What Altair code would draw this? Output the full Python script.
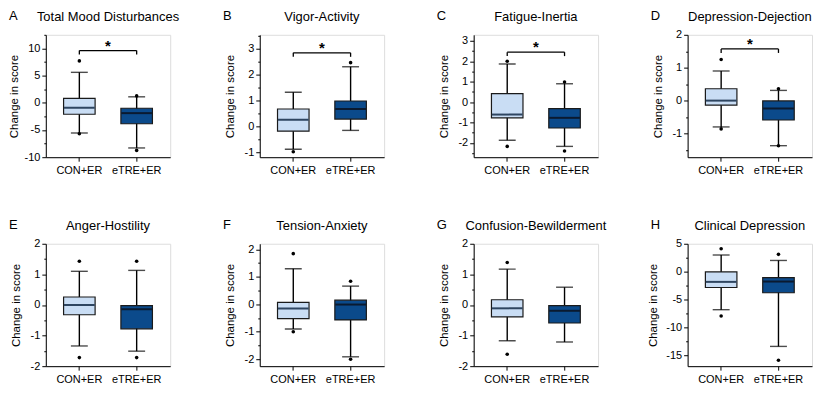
import altair as alt
import pandas as pd
import math

groups = ["CON+ER", "eTRE+ER"]
letters = ["A", "B", "C", "D", "E", "F", "G", "H"]
titles = ["Total Mood Disturbances", "Vigor-Activity", "Fatigue-Inertia", "Depression-Dejection",
          "Anger-Hostility", "Tension-Anxiety", "Confusion-Bewilderment", "Clinical Depression"]

# box statistics per panel: [CON+ER, eTRE+ER]
whisker_low = [[-5.55, -8.3], [-0.89, -0.16], [-1.87, -2.17], [-0.8, -1.37],
               [-1.34, -1.51], [-0.9, -1.91], [-1.17, -1.21], [-6.85, -13.45]]
q1 = [[-2.1, -3.85], [-0.19, 0.28], [-0.77, -1.27], [-0.14, -0.59],
      [-0.32, -0.78], [-0.52, -0.57], [-0.39, -0.59], [-2.86, -3.8]]
median = [[-0.9, -1.9], [0.25, 0.67], [-0.61, -0.77], [0.0, -0.24],
          [0.0, -0.14], [-0.15, -0.01], [-0.11, -0.19], [-1.85, -1.79]]
q3 = [[0.8, -1.0], [0.67, 0.98], [0.42, -0.32], [0.36, -0.01],
      [0.26, -0.02], [0.07, 0.15], [0.17, -0.02], [-0.06, -1.07]]
whisker_high = [[5.6, 1.1], [1.32, 2.31], [1.87, 0.9], [0.9, 0.31],
                [1.1, 1.13], [1.29, 0.66], [1.17, 0.58], [2.98, 2.0]]
outliers = [
    [[7.7, -5.7], [1.27, -8.75]],
    [[-0.99], [2.47]],
    [[2.0, -2.17], [0.99, -2.4]],
    [[1.25, -0.86], [0.36, -1.37]],
    [[1.43, -1.72], [1.43, -1.72]],
    [[1.84, -1.0], [0.84, -2.0]],
    [[1.39, -1.61], []],
    [[4.1, -7.98], [3.1, -15.95]],
]
y_domains = [[-10, 12.5], [-1.2, 3.55], [-2.7, 3.3], [-1.72, 2],
             [-2, 2], [-2.25, 2.2], [-2, 2], [-17, 5]]
major_step = [5, 1, 1, 1, 1, 1, 1, 5]
significance = [9.6, 2.85, 2.45, 1.57, None, None, None, None]
title_pad = [6, 4, 4, 4, 4, 4, 4, 9]

W, H = 125, 123
LIGHT, DARK = "#c9ddf4", "#0b4a8b"
MED_LIGHT, MED_DARK = "#2e4560", "#0a1a30"
FONT = "Liberation Sans"


def tick_values(dom, step):
    minor = step / 2
    k0 = math.ceil(dom[0] / minor - 1e-9)
    k1 = math.floor(dom[1] / minor + 1e-9)
    return [round(k * minor, 6) for k in range(k0, k1 + 1)]


def panel(i):
    box = pd.DataFrame({"group": groups, "lo": whisker_low[i], "q1": q1[i],
                        "med": median[i], "q3": q3[i], "hi": whisker_high[i]})
    rows = [{"group": g, "v": v} for g, vals in zip(groups, outliers[i]) for v in vals]
    out = pd.DataFrame(rows, columns=["group", "v"])
    step = major_step[i]
    xscale = alt.Scale(domain=groups, paddingInner=0.45, paddingOuter=0.31)
    yscale = alt.Scale(domain=y_domains[i], nice=False, zero=False)
    xaxis = alt.Axis(title=None, labelAngle=0, labelFontSize=11, labelColor="black",
                     labelPadding=3, tickSize=4, tickColor="black", domainColor="black",
                     labelFont=FONT)
    yaxis = alt.Axis(title="Change in score", values=tick_values(y_domains[i], step),
                     labelExpr=f"datum.value % {step} === 0 ? toString(datum.value) : ''",
                     tickSize={"condition": {"test": f"datum.value % {step} !== 0", "value": 2}, "value": 4},
                     grid=False, labelFontSize=11, labelColor="black", labelPadding=2,
                     tickColor="black", domainColor="black", titleFontSize=11.5,
                     titleFontWeight="normal", titleColor="black", titlePadding=title_pad[i],
                     minExtent=20, maxExtent=20, labelFont=FONT, titleFont=FONT)

    def X(f="group"):
        return alt.X(f"{f}:N", scale=xscale, axis=xaxis, sort=groups)

    def Y(f):
        return alt.Y(f"{f}:Q", scale=yscale, axis=yaxis)

    base = alt.Chart(box)
    whisk = base.mark_rule(color="black", strokeWidth=1.4).encode(x=X(), y=Y("lo"), y2="hi:Q")
    cap_lo = base.mark_tick(color="black", size=17, thickness=1.4).encode(x=X(), y=Y("lo"))
    cap_hi = base.mark_tick(color="black", size=17, thickness=1.4).encode(x=X(), y=Y("hi"))
    boxes = base.mark_bar(stroke="#1a1a1a", strokeWidth=1.2, opacity=1).encode(
        x=X(), y=Y("q1"), y2="q3:Q",
        color=alt.Color("group:N", scale=alt.Scale(domain=groups, range=[LIGHT, DARK]), legend=None))
    med = base.mark_tick(size=31, thickness=2, opacity=1).encode(
        x=X(), y=Y("med"),
        color=alt.condition(alt.datum.group == groups[0], alt.value(MED_LIGHT), alt.value(MED_DARK)))
    pts = alt.Chart(out).mark_circle(color="black", size=13, opacity=1).encode(x=X(), y=Y("v"))

    lab = pd.DataFrame({"letter": [letters[i]], "title": [titles[i]]})
    letter = alt.Chart(lab).mark_text(align="left", baseline="alphabetic", fontSize=13,
                                      font=FONT, color="black").encode(
        text="letter:N", x=alt.value(-37), y=alt.value(-15))
    ttl = alt.Chart(lab).mark_text(align="center", baseline="alphabetic", fontSize=13,
                                   font=FONT, color="black").encode(
        text="title:N", x=alt.value(W / 2), y=alt.value(-14))

    layers = [whisk, cap_lo, cap_hi, boxes, med, pts]
    if significance[i] is not None:
        sig = pd.DataFrame({"a": [groups[0]], "b": [groups[1]], "y": [significance[i]]})
        ends = pd.DataFrame({"group": groups, "y": [significance[i]] * 2})
        bar = alt.Chart(sig).mark_rule(color="black", strokeWidth=1.3).encode(
            x=alt.X("a:N", scale=xscale, axis=xaxis, sort=groups), x2="b:N", y=Y("y"))
        end = alt.Chart(ends).mark_rule(color="black", strokeWidth=1.3, y2Offset=4).encode(
            x=X(), y=Y("y"), y2="y:Q")
        star = alt.Chart(sig).mark_text(text="*", fontSize=15, fontWeight="bold", font=FONT,
                                        color="black", baseline="alphabetic", dy=0).encode(
            x=alt.value(W / 2), y=Y("y"))
        layers += [bar, end, star]
    layers += [letter, ttl]
    return alt.layer(*layers).properties(width=W, height=H)


chart = alt.concat(*[panel(i) for i in range(8)], columns=4,
                   spacing={"row": 87, "column": 90}, bounds="flush").properties(
    padding={"left": 0, "top": 0, "right": 0, "bottom": 0}
).configure_view(stroke="black", strokeWidth=1.1).configure(background="white")

chart.save("out.html", embed_options={"renderer": "svg", "actions": False})
